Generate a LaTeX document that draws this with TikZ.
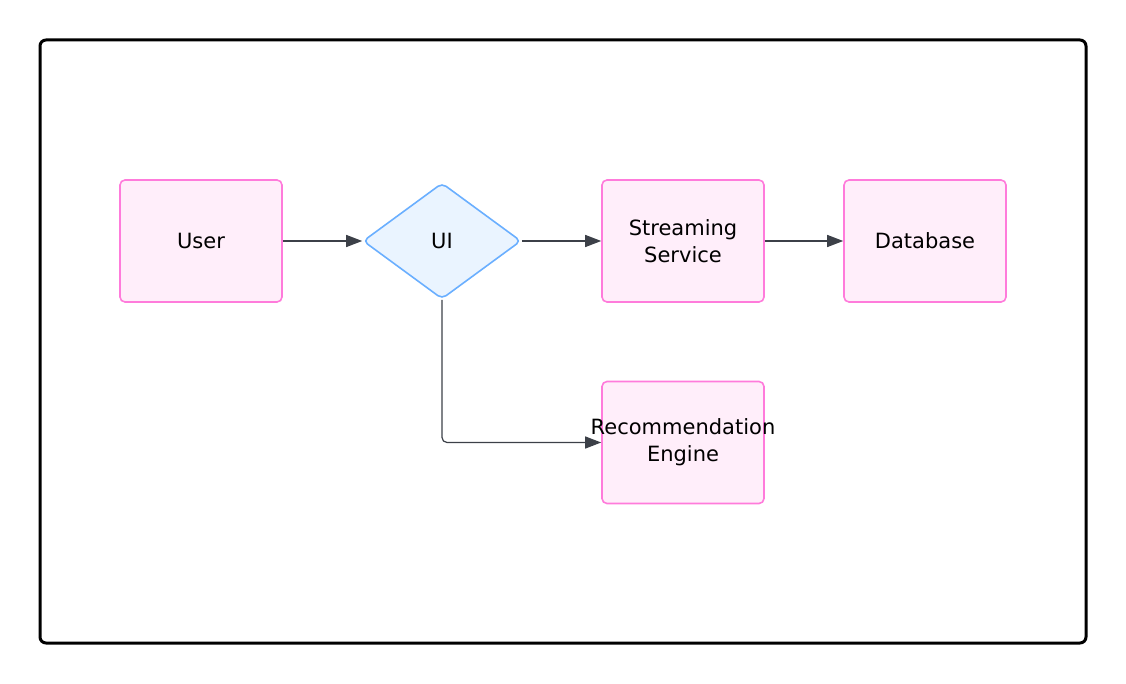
\documentclass[tikz,border=0pt]{standalone}
\usepackage{fontspec}
\setmainfont{DejaVu Sans}
\usetikzlibrary{arrows.meta,shapes.geometric}
\definecolor{pinkline}{HTML}{FF7BDB}
\definecolor{pinkfill}{HTML}{FFEEFA}
\definecolor{blueline}{HTML}{6AAFFF}
\definecolor{bluefill}{HTML}{EAF4FF}
\definecolor{arrowc}{HTML}{3C4048}
\begin{document}
\begin{tikzpicture}[x=1pt,y=-1pt,
  every node/.style={font=\fontsize{21}{27}\selectfont, text=black, align=center},
  procbox/.style={draw=pinkline, fill=pinkfill, line width=1.6pt, rounded corners=5pt,
    minimum width=162pt, minimum height=122pt, inner sep=0pt},
  decbox/.style={diamond, draw=blueline, fill=bluefill, line width=1.6pt, rounded corners=5pt,
    minimum width=158pt, minimum height=116pt, aspect=1.36, inner sep=0pt},
  conn/.style={draw=arrowc, line width=1.2pt, -{Triangle[length=16pt,width=12pt]}}
]
\useasboundingbox (0,0) rectangle (1126,684);
\node[draw=black, line width=3pt, rounded corners=6pt, minimum width=1046pt, minimum height=603pt, inner sep=0pt] (frame) at (563,341.5) {};
\node[procbox] (user) at (201,241) {User};
\node[decbox] (ui) at (442,241) {UI};
\node[procbox] (stream) at (683,241) {Streaming\\Service};
\node[procbox] (db) at (925,241) {Database};
\node[procbox] (rec) at (683,442.5) {\makebox[0pt][c]{Recommendation}\\Engine};
\draw[conn] (user.east) -- (ui.west);
\draw[conn] (ui.east) -- (stream.west);
\draw[conn] (stream.east) -- (db.west);
\draw[conn, rounded corners=5pt] (ui.south) |- (rec.west);
\end{tikzpicture}
\end{document}
